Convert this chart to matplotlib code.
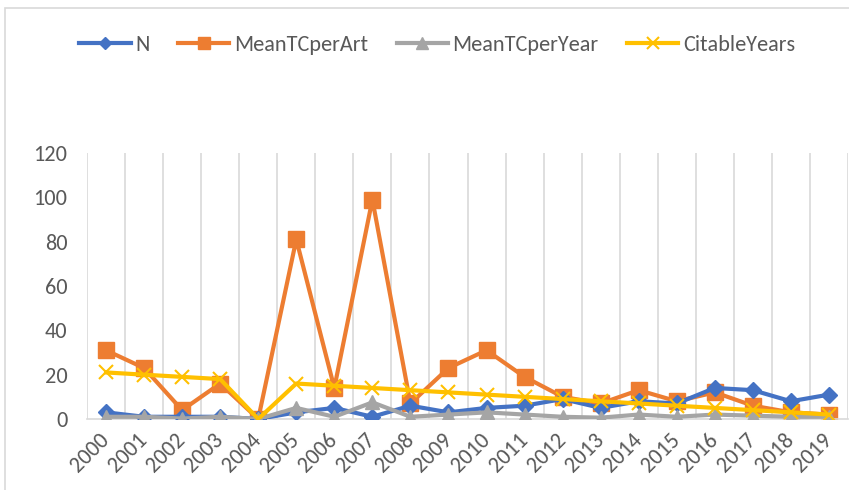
import matplotlib.pyplot as plt
from matplotlib.patches import Rectangle

years = [str(y) for y in range(2000, 2020)]
n_docs = [3, 1, 1, 1, 0, 3, 5, 1, 6, 3, 5, 6, 9, 5, 8, 7, 14, 13, 8, 11]
mean_tc_art = [31, 23, 4, 16, 0, 81, 14, 99, 7, 23, 31, 19, 10, 7, 13, 8, 12, 6, 3, 2]
mean_tc_year = [1, 1, 0.2, 1, 0, 5, 1, 7.5, 1, 2, 3, 2, 1, 0.6, 2, 1, 2, 1.5, 1, 1]
citable_years = [21, 20, 19, 18, 0, 16, 15, 14, 13, 12, 11, 10, 9, 8, 7, 6, 5, 4, 3, 2]

plt.rcParams['font.family'] = ['Carlito', 'DejaVu Sans']

W, H = 849, 490
fig = plt.figure(figsize=(W / 100, H / 100), dpi=100)
fig.patches.append(Rectangle((5 / W, -0.1), 1.1, 1 - 8 / H + 0.1, transform=fig.transFigure,
                             fill=False, edgecolor='#d9d9d9', linewidth=1.2))

ax = fig.add_axes([87 / W, 1 - 419 / H, (848 - 87) / W, (419 - 153) / H])
x = list(range(len(years)))

ax.plot(x, n_docs, color='#4472C4', lw=3, marker='D', ms=8, label='N', zorder=3)
ax.plot(x, mean_tc_art, color='#ED7D31', lw=3, marker='s', ms=11, label='MeanTCperArt', zorder=2)
ax.plot(x, mean_tc_year, color='#A5A5A5', lw=3, marker='^', ms=10, label='MeanTCperYear', zorder=4)
ax.plot(x, citable_years, color='#FFC000', lw=3, marker='x', ms=10, mew=1.5,
        label='CitableYears', zorder=5)

ax.set_xlim(-0.5, len(years) - 0.5)
ax.set_ylim(0, 120)
ax.set_yticks(range(0, 121, 20))
ax.set_xticks(x)
ax.set_xticklabels(years, rotation=45, ha='right', va='center', rotation_mode='anchor',
                   fontsize=18)
for k in range(len(years) + 1):
    ax.axvline(k - 0.5, color='#d9d9d9', lw=1.2, zorder=0)

for s in ['top', 'right', 'left']:
    ax.spines[s].set_visible(False)
ax.spines['bottom'].set_color('#d9d9d9')
ax.spines['bottom'].set_linewidth(1.2)
ax.tick_params(axis='both', length=0, labelsize=16, colors='#595959')
ax.tick_params(axis='x', pad=13)
ax.tick_params(axis='y', pad=14)

fig.legend(loc='center', bbox_to_anchor=(0.515, 1 - 45 / H), ncol=4, frameon=False,
           fontsize=16, labelcolor='#595959', handlelength=2.3, handletextpad=0.2,
           columnspacing=1.3, markerscale=0.8)

fig.savefig('out.png', dpi=100)
